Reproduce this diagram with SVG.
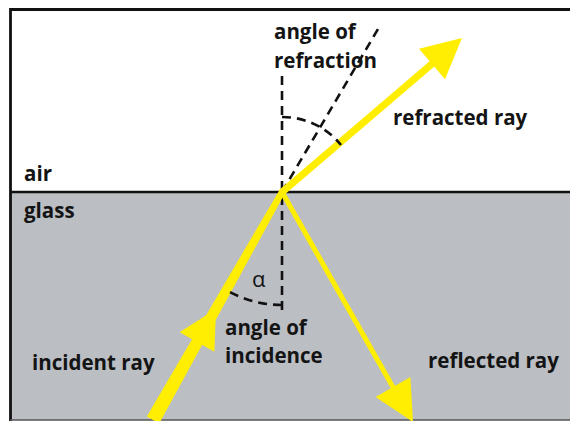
<svg xmlns="http://www.w3.org/2000/svg" width="570" height="421" viewBox="0 0 570 421">
<style>
.t{font-family:"Open Sans","Liberation Sans",sans-serif;font-weight:700;font-size:20.5px;fill:#141414}
.dash{fill:none;stroke:#111;stroke-width:2.6;stroke-dasharray:9 6}
.ray{fill:none;stroke:#ffee00;stroke-linecap:butt}
.head{fill:#ffee00}
</style>
<g id="media">
<rect x="10" y="9" width="560" height="183" fill="#ffffff"/>
<rect x="10" y="192" width="560" height="228" fill="#bbbec3"/>
<path d="M10.5 421 V9.5 H570" fill="none" stroke="#111" stroke-width="2.8"/>
<line x1="10" y1="192" x2="570" y2="192" stroke="#111" stroke-width="2.6"/>
<line x1="10" y1="420" x2="570" y2="420" stroke="#555" stroke-width="1.5"/>
</g>
<g id="connectors">
<line id="normal" class="dash" x1="282" y1="76" x2="282" y2="312"/>
<line id="extension" class="dash" x1="282" y1="192" x2="381" y2="24"/>
<g id="incident-ray">
<polygon class="head" points="146.8,416.5 159.2,423.5 284.8,193.5 279.2,190.5"/>
<polygon class="head" points="216,309 214.4,351.8 179.6,332.2"/>
</g>
<g id="refracted-ray">
<line class="ray" x1="281" y1="193" x2="433" y2="63" stroke-width="7"/>
<polygon class="head" points="462,38 445,79.2 419,48.8"/>
</g>
<g id="reflected-ray">
<line class="ray" x1="282" y1="192" x2="394" y2="389" stroke-width="5"/>
<polygon class="head" points="413,422 410.4,377 375.6,397"/>
</g>
<path id="arc-refraction" class="dash" d="M282 117 A75 75 0 0 1 341 145"/>
<path id="arc-incidence" class="dash" d="M282 305 A113 113 0 0 1 226 290"/>
</g>
<g id="labels">
<text class="t" x="24" y="181">air</text>
<text class="t" x="24" y="218">glass</text>
<text class="t" x="274" y="39">angle of</text>
<text class="t" x="274" y="68">refraction</text>
<text class="t" x="393" y="125">refracted ray</text>
<text class="t" x="252" y="287" style="font-weight:400;font-size:22px">α</text>
<text class="t" x="225" y="335">angle of</text>
<text class="t" x="225" y="363">incidence</text>
<text class="t" x="32" y="370">incident ray</text>
<text class="t" x="428" y="368">reflected ray</text>
</g>
</svg>
